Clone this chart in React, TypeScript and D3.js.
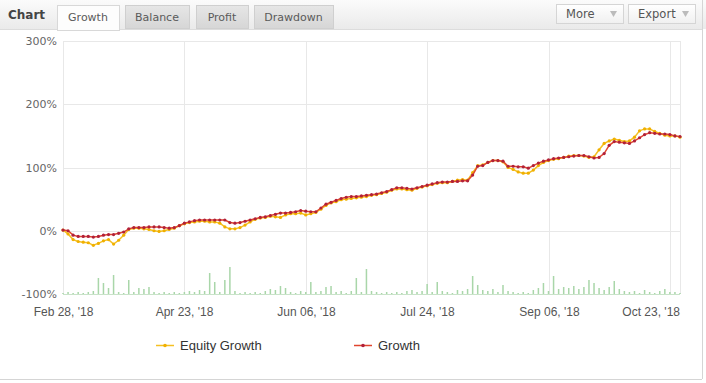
import React from "react";
import * as d3 from "d3";

const growth = [1,0,-7,-9,-9,-9,-10,-9,-7,-6,-6,-4,-2,3,5,5,5,6,6,6,5,4,5,8,12,14,16,17,17,17,17,17,17,13,12,13,15,17,19,21,22,24,26,28,28,29,30,32,31,30,30,36,42,45,48,51,53,54,54,55,56,57,58,60,62,65,68,68,67,66,68,70,72,74,76,77,77,78,78,79,79,88,102,103,108,111,111,110,102,102,101,101,99,103,107,110,112,114,115,116,117,118,119,119,117,115,116,122,135,141,140,139,138,142,147,152,155,154,153,153,152,150,149];
const equity = [1,-5,-14,-17,-18,-19,-23,-20,-16,-14,-21,-15,-7,2,4,4,3,2,0,-1,0,2,4,8,11,13,14,15,15,14,14,12,6,3,3,5,9,14,18,20,21,23,22,21,25,27,27,28,25,27,29,34,40,44,46,49,50,51,52,53,54,56,57,59,61,64,66,66,65,64,67,69,71,73,75,76,76,78,80,81,80,92,103,104,108,111,111,109,100,97,93,91,91,96,103,108,111,113,114,116,118,119,119,118,116,117,128,138,142,145,143,141,142,148,158,161,161,157,154,151,150,150,148];
const volume = [1,2,1,2,1,2,3,16,11,6,19,2,1,14,2,6,5,7,2,1,2,1,2,1,2,3,2,4,3,21,12,2,14,27,3,1,2,1,2,1,3,5,4,8,6,2,1,3,2,12,2,3,7,8,2,3,1,3,16,2,25,3,2,1,2,1,2,1,3,4,2,3,10,2,12,3,2,1,4,3,5,18,9,4,3,5,2,9,3,2,1,2,1,4,6,11,3,18,5,7,6,8,5,7,14,11,6,4,7,13,5,3,2,3,1,4,2,1,3,5,2,2,1];
const yTicks = [-100, 0, 100, 200, 300];
const xTickIndex = [0, 24, 48, 72, 96, 120];
const xTickLabels = ["Feb 28, '18", "Apr 23, '18", "Jun 06, '18", "Jul 24, '18", "Sep 06, '18", "Oct 23, '18"];
const tabs = ["Growth", "Balance", "Profit", "Drawdown"];

const W = 706, H = 383;
const L = 63, R = 680, T = 41, B = 294;

export default function App() {
  const n = growth.length;
  const x = d3.scaleLinear().domain([0, n - 1]).range([L, R]);
  const y = d3.scaleLinear().domain([-100, 300]).range([B, T]);
  const yv = d3.scaleLinear().domain([0, 100]).range([B, B - 100]);
  const line = d3.line<number>().x((_, i) => x(i)).y((d) => y(d));

  const tabX = [57, 125, 196, 254];
  const tabW = [62, 64, 52, 79];
  const eqColor = "#f5c023";
  const eqMark = "#f0b000";
  const grColor = "#e0452e";
  const grMark = "#b0203a";

  return (
    <svg width={W} height={H} style={{ position: "absolute", left: 0, top: 0, background: "#fff" }}>
      <defs>
        <linearGradient id="hdr" x1="0" y1="0" x2="0" y2="1">
          <stop offset="0" stopColor="#fbfbfb" />
          <stop offset="1" stopColor="#eaeaea" />
        </linearGradient>
        <linearGradient id="tab" x1="0" y1="0" x2="0" y2="1">
          <stop offset="0" stopColor="#e6e6e6" />
          <stop offset="1" stopColor="#d6d6d6" />
        </linearGradient>
        <linearGradient id="btn" x1="0" y1="0" x2="0" y2="1">
          <stop offset="0" stopColor="#ffffff" />
          <stop offset="1" stopColor="#f0f0f0" />
        </linearGradient>
      </defs>
      <rect x={0} y={0} width={W} height={29} fill="url(#hdr)" />
      <line x1={0} x2={702} y1={29.5} y2={29.5} stroke="#dcdcdc" />
      <line x1={702.5} x2={702.5} y1={0} y2={379} stroke="#d5d5d5" />
      <line x1={0} x2={702} y1={379.5} y2={379.5} stroke="#d5d5d5" />
      <text x={8} y={19} fontFamily="DejaVu Sans, Verdana, sans-serif" fontSize={12} fontWeight="bold" fill="#444">Chart</text>
      {tabs.map((t, i) => (
        <g key={t}>
          <rect x={tabX[i] + 0.5} y={5.5} width={tabW[i]} height={i === 0 ? 25 : 23} fill={i === 0 ? "#fdfdfd" : "url(#tab)"} stroke={i === 0 ? "#d8d8d8" : "#cfcfcf"} />
          <text x={tabX[i] + tabW[i] / 2} y={21} textAnchor="middle" fontFamily="DejaVu Sans, Verdana, sans-serif" fontSize={11} fill="#5a5a5a">{t}</text>
        </g>
      ))}
      {[{ t: "More", x: 556, w: 67 }, { t: "Export", x: 628, w: 67 }].map((b) => (
        <g key={b.t}>
          <rect x={b.x + 0.5} y={4.5} width={b.w} height={19} fill="url(#btn)" stroke="#d5d5d5" />
          <text x={b.x + 10} y={18} fontFamily="DejaVu Sans, Verdana, sans-serif" fontSize={11.5} fill="#555">{b.t}</text>
          <path d={`M${b.x + b.w - 13},11 l7,0 l-3.5,6 z`} fill="#bbb" />
        </g>
      ))}
      {yTicks.map((t) => (
        <g key={t}>
          <line x1={L} x2={R} y1={Math.round(y(t)) + 0.5} y2={Math.round(y(t)) + 0.5} stroke="#e8e8e8" />
          <text x={57} y={y(t) + 4} textAnchor="end" fontFamily="DejaVu Sans, Verdana, sans-serif" fontSize={11} fill="#666">{t + "%"}</text>
        </g>
      ))}
      {xTickIndex.map((ti, k) => {
        const xx = Math.round(x(ti)) + 0.5;
        const last = xx + 32 > R;
        return (
          <g key={ti}>
            <line x1={xx} x2={xx} y1={T} y2={B} stroke="#e8e8e8" />
            <text x={last ? R : xx} y={316} textAnchor={last ? "end" : "middle"} fontFamily="Liberation Sans, Arial, sans-serif" fontSize={12} fill="#555">{xTickLabels[k]}</text>
          </g>
        );
      })}
      <line x1={R + 0.5} x2={R + 0.5} y1={T} y2={B} stroke="#e8e8e8" />
      {volume.map((v, i) => (
        <rect key={i} x={x(i) - 0.75} y={yv(v)} width={1.5} height={B - yv(v)} fill="#a9d6a9" />
      ))}
      <line x1={L} x2={R} y1={B + 0.5} y2={B + 0.5} stroke="#c9e3c9" />
      <path d={line(equity) || ""} fill="none" stroke={eqColor} strokeWidth={1.5} />
      {equity.map((v, i) => (
        <circle key={i} cx={x(i)} cy={y(v)} r={1.6} fill={eqMark} />
      ))}
      <path d={line(growth) || ""} fill="none" stroke={grColor} strokeWidth={1.5} />
      {growth.map((v, i) => (
        <circle key={i} cx={x(i)} cy={y(v)} r={1.6} fill={grMark} />
      ))}
      <g>
        <line x1={156} x2={174} y1={345.5} y2={345.5} stroke={eqColor} strokeWidth={1.5} />
        <circle cx={165} cy={345.5} r={1.8} fill={eqMark} />
        <text x={180} y={350} fontFamily="Liberation Sans, Arial, sans-serif" fontSize={13} fill="#333">Equity Growth</text>
        <line x1={354} x2={372} y1={345.5} y2={345.5} stroke={grColor} strokeWidth={1.5} />
        <circle cx={363} cy={345.5} r={1.8} fill={grMark} />
        <text x={378} y={350} fontFamily="Liberation Sans, Arial, sans-serif" fontSize={13} fill="#333">Growth</text>
      </g>
    </svg>
  );
}
